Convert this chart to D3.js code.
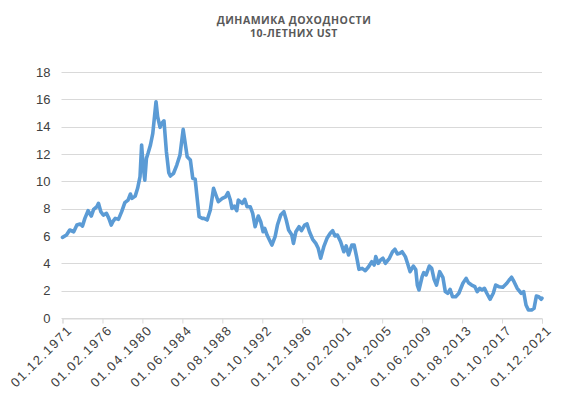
<!DOCTYPE html>
<html>
<head>
<meta charset="utf-8">
<script src="https://cdn.jsdelivr.net/npm/d3@7"></script>
<style>
  body { margin: 0; background: #fff; }
  svg { display: block; }
</style>
</head>
<body>
<div id="chart"></div>
<script>
// yields of 10-year UST (month, %)
var dates = [
  "1971-12", "1972-05", "1972-09", "1973-02", "1973-06", "1973-10", "1974-01", "1974-04", "1974-08", "1974-12",
  "1975-03", "1975-07", "1975-09", "1975-12", "1976-03", "1976-07", "1976-10", "1977-01", "1977-03", "1977-06",
  "1977-10", "1978-02", "1978-06", "1978-10", "1979-01", "1979-03", "1979-07", "1979-10", "1980-01", "1980-03",
  "1980-05", "1980-07", "1980-09", "1980-11", "1981-02", "1981-05", "1981-09", "1981-11", "1982-02", "1982-04",
  "1982-07", "1982-10", "1983-01", "1983-03", "1983-07", "1983-11", "1984-03", "1984-07", "1984-12", "1985-04",
  "1985-07", "1985-10", "1986-03", "1986-07", "1986-09", "1987-01", "1987-05", "1987-09", "1987-12", "1988-03",
  "1988-08", "1988-12", "1989-03", "1989-06", "1989-08", "1989-11", "1990-02", "1990-04", "1990-09", "1990-12",
  "1991-03", "1991-07", "1991-10", "1992-01", "1992-05", "1992-08", "1992-11", "1993-01", "1993-04", "1993-07",
  "1993-10", "1994-02", "1994-05", "1994-09", "1995-01", "1995-04", "1995-07", "1995-11", "1996-01", "1996-04",
  "1996-08", "1996-11", "1997-03", "1997-06", "1997-09", "1998-01", "1998-05", "1998-08", "1998-11", "1999-03",
  "1999-07", "1999-11", "2000-02", "2000-05", "2000-08", "2000-12", "2001-04", "2001-07", "2001-10", "2002-02",
  "2002-05", "2002-08", "2002-11", "2003-03", "2003-07", "2003-11", "2004-03", "2004-06", "2004-08", "2004-11",
  "2005-02", "2005-05", "2005-08", "2006-01", "2006-05", "2006-08", "2006-11", "2007-02", "2007-05", "2007-09",
  "2007-12", "2008-03", "2008-07", "2008-10", "2008-12", "2009-02", "2009-06", "2009-08", "2009-11", "2010-03",
  "2010-06", "2010-09", "2010-12", "2011-04", "2011-08", "2011-11", "2012-02", "2012-05", "2012-08", "2012-12",
  "2013-04", "2013-09", "2014-01", "2014-04", "2014-08", "2014-12", "2015-03", "2015-06", "2015-09", "2015-12",
  "2016-03", "2016-07", "2016-11", "2017-02", "2017-06", "2017-11", "2018-04", "2018-07", "2018-10", "2019-01",
  "2019-05", "2019-10", "2020-01", "2020-04", "2020-07", "2020-11", "2021-02", "2021-05", "2021-08", "2021-11",
  "2021-12"
];
var yields = [
  5.9, 6.07, 6.44, 6.31, 6.8, 6.88, 6.73, 7.29, 7.85, 7.46,
  7.95, 8.14, 8.39, 7.78, 7.53, 7.66, 7.29, 6.8, 7.05, 7.29,
  7.22, 7.78, 8.44, 8.63, 9.07, 8.75, 8.92, 9.49, 10.34, 12.66,
  11.07, 10.09, 11.68, 12.05, 12.66, 13.51, 15.82, 14.73, 13.95, 14.24,
  14.43, 12.17, 10.63, 10.39, 10.59, 11.19, 11.92, 13.8, 11.8, 11.56,
  10.22, 10.15, 7.41, 7.29, 7.29, 7.17, 7.9, 9.49, 9.0, 8.51,
  8.75, 8.87, 9.17, 8.63, 8.02, 8.19, 7.85, 8.63, 8.39, 8.68,
  8.14, 8.14, 7.66, 6.68, 7.46, 7.05, 6.31, 6.56, 6.07, 5.71,
  5.34, 5.95, 6.8, 7.53, 7.78, 7.17, 6.44, 6.07, 5.46, 6.31,
  6.68, 6.39, 6.8, 6.88, 6.31, 5.76, 5.46, 5.1, 4.37, 5.22,
  5.83, 6.2, 6.39, 6.0, 6.07, 5.58, 4.85, 5.27, 4.61, 5.34,
  5.34, 4.49, 3.56, 3.63, 3.46, 3.75, 4.12, 3.88, 4.49, 4.0,
  4.24, 4.37, 4.0, 4.37, 4.85, 5.03, 4.68, 4.73, 4.85, 4.49,
  3.95, 3.39, 3.8, 3.55, 2.41, 2.05, 3.02, 3.32, 3.15, 3.8,
  3.63, 2.83, 2.41, 3.39, 2.98, 1.93, 1.81, 2.1, 1.56, 1.56,
  1.81, 2.54, 2.9, 2.58, 2.41, 2.29, 1.93, 2.17, 2.05, 2.17,
  1.81, 1.37, 1.81, 2.41, 2.29, 2.25, 2.54, 2.78, 2.98, 2.66,
  2.17, 1.81, 1.93, 0.95, 0.59, 0.59, 0.71, 1.61, 1.56, 1.37,
  1.45
];
var xTickLabels = [
  "01.12.1971", "01.02.1976", "01.04.1980", "01.06.1984", "01.08.1988", "01.10.1992", "01.12.1996",
  "01.02.2001", "01.04.2005", "01.06.2009", "01.08.2013", "01.10.2017", "01.12.2021"
];
var yTicks = [0, 2, 4, 6, 8, 10, 12, 14, 16, 18];
var titleLines = ["ДИНАМИКА ДОХОДНОСТИ", "10-ЛЕТНИХ UST"];

var width = 570, height = 411;
var margin = { top: 72, right: 28, bottom: 93, left: 62.5 };

var parseMonth = d3.timeParse("%Y-%m");
var parseLabel = d3.timeParse("%d.%m.%Y");
var data = dates.map((d, i) => ({ date: parseMonth(d), value: yields[i] }));

var svg = d3.select("#chart").append("svg")
  .attr("width", width)
  .attr("height", height);

var x = d3.scaleTime()
  .domain([parseLabel(xTickLabels[0]), parseLabel(xTickLabels[xTickLabels.length - 1])])
  .range([margin.left, width - margin.right]);
var y = d3.scaleLinear()
  .domain([0, 18])
  .range([height - margin.bottom, margin.top]);

// title
svg.append("g")
  .selectAll("text")
  .data(titleLines)
  .enter()
  .append("text")
  .attr("x", 294)
  .attr("y", (d, i) => 24 + i * 13)
  .attr("text-anchor", "middle")
  .style("font", "bold 10.5px 'Open Sans'")
  .style("letter-spacing", "0.5px")
  .style("fill", "#595959")
  .text(d => d);

// grid
svg.append("g")
  .selectAll("line")
  .data(yTicks)
  .enter()
  .append("line")
  .attr("x1", margin.left - 1)
  .attr("x2", width - margin.right)
  .attr("y1", d => Math.round(y(d)) + 0.5)
  .attr("y2", d => Math.round(y(d)) + 0.5)
  .style("stroke", "#d9d9d9")
  .style("stroke-width", 1);

// y axis labels
var yAxis = svg.append("g")
  .attr("transform", "translate(" + (margin.left - 1) + ",0)")
  .call(d3.axisLeft(y).tickValues(yTicks).tickSize(0).tickPadding(11));
yAxis.select(".domain").remove();
yAxis.selectAll("text")
  .style("font", "13px 'Liberation Sans'")
  .style("fill", "#404040");

// x axis
var xAxis = svg.append("g")
  .attr("transform", "translate(0," + (Math.round(y(0)) + 0.5) + ")")
  .call(d3.axisBottom(x)
    .tickValues(xTickLabels.map(parseLabel))
    .tickSize(5)
    .tickFormat((d, i) => xTickLabels[i]));
xAxis.select(".domain").style("stroke", "#d9d9d9");
xAxis.selectAll(".tick line").style("stroke", "#d9d9d9");
xAxis.selectAll("text")
  .attr("text-anchor", "end")
  .attr("transform", "translate(7,9) rotate(-45)")
  .attr("dy", "0.35em")
  .attr("y", 0)
  .attr("x", 0)
  .style("font", "13px 'Liberation Sans'")
  .style("letter-spacing", "1.6px")
  .style("fill", "#404040");

// line
var line = d3.line()
  .x(d => x(d.date))
  .y(d => y(d.value));

svg.append("path")
  .datum(data)
  .attr("d", line)
  .style("fill", "none")
  .style("stroke", "#5b9bd5")
  .style("stroke-width", 3.6)
  .style("stroke-linejoin", "round")
  .style("stroke-linecap", "round");
</script>
</body>
</html>
